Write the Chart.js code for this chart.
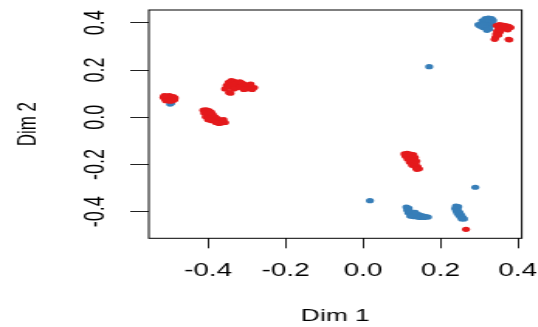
<!DOCTYPE html>
<html><head><meta charset="utf-8">
<script src="https://cdn.jsdelivr.net/npm/chart.js@4/dist/chart.umd.min.js"></script>
<style>
html,body{margin:0;padding:0;background:#fff;overflow:hidden;width:538px;height:327px;}
#wrap{width:347px;height:327px;transform:scaleX(1.55);transform-origin:0 0;}
canvas{display:block;}
</style></head><body>
<div id="wrap"><canvas id="c" width="347" height="327"></canvas></div>
<script>
// Axis ticks
const xTicks = [-0.4, -0.2, 0.0, 0.2, 0.4];
const yTicks = [-0.4, -0.2, 0.0, 0.2, 0.4];
const xTitle = 'Dim 1';
const yTitle = 'Dim 2';

// Red group (x, y)
const redX = [
  -0.515,-0.512,-0.508,-0.505,-0.502,-0.500,-0.497,-0.494,-0.490,-0.487,-0.509,-0.498,-0.492,-0.486,-0.513,
  -0.412,-0.405,-0.398,-0.392,-0.410,-0.402,-0.395,-0.388,-0.406,-0.398,-0.390,-0.382,-0.376,-0.384,-0.392,-0.375,-0.368,-0.362,-0.356,-0.366,-0.372,-0.360,-0.400,-0.380,
  -0.356,-0.352,-0.347,-0.340,-0.333,-0.345,-0.338,-0.330,-0.324,-0.318,-0.312,-0.326,-0.318,-0.310,-0.304,-0.298,-0.292,-0.286,-0.281,-0.300,-0.308,-0.334,-0.290,-0.346,-0.342,
  0.107,0.114,0.122,0.130,0.110,0.118,0.127,0.134,0.115,0.123,0.131,0.138,0.121,0.129,0.136,0.127,0.134,0.141,0.137,0.145,0.139,
  0.266,
  0.345,0.352,0.360,0.368,0.376,0.381,0.350,0.358,0.366,0.374,0.346,0.354,0.344,0.350,0.342,0.340,0.378,0.376
];
const redY = [
  0.085,0.078,0.090,0.082,0.072,0.092,0.085,0.078,0.088,0.074,0.070,0.068,0.070,0.082,0.092,
  0.030,0.031,0.028,0.022,0.018,0.012,0.008,0.012,0.002,-0.002,-0.004,0.002,-0.006,-0.012,-0.014,-0.018,-0.012,-0.018,-0.022,-0.024,-0.026,-0.010,-0.010,-0.022,
  0.120,0.135,0.148,0.155,0.152,0.128,0.138,0.140,0.146,0.150,0.145,0.125,0.128,0.132,0.138,0.132,0.125,0.118,0.126,0.120,0.118,0.120,0.140,0.105,0.102,
  -0.155,-0.153,-0.156,-0.158,-0.165,-0.166,-0.168,-0.170,-0.176,-0.180,-0.182,-0.185,-0.190,-0.194,-0.197,-0.203,-0.206,-0.209,-0.214,-0.218,-0.220,
  -0.474,
  0.388,0.392,0.390,0.388,0.385,0.380,0.378,0.376,0.374,0.370,0.365,0.362,0.352,0.348,0.338,0.330,0.328,0.330
];

// Blue group (x, y)
const blueX = [
  -0.498,-0.495,
  0.316,0.324,0.332,0.336,0.308,0.316,0.324,0.332,0.298,0.305,0.312,0.320,0.328,0.334,0.310,0.318,0.326,0.320,0.302,
  0.171,0.018,0.290,
  0.112,0.118,0.114,0.120,0.117,0.124,0.126,0.132,0.138,0.144,0.150,0.156,0.162,0.168,0.130,0.140,0.148,0.158,0.122,0.135,
  0.240,0.246,0.238,0.244,0.241,0.247,0.244,0.250,0.248,0.254,0.252,0.258,0.261,0.255
];
const blueY = [
  0.056,0.060,
  0.418,0.420,0.418,0.410,0.408,0.406,0.404,0.400,0.392,0.394,0.392,0.390,0.388,0.392,0.380,0.378,0.374,0.368,0.386,
  0.214,-0.353,-0.296,
  -0.380,-0.384,-0.392,-0.396,-0.404,-0.404,-0.412,-0.410,-0.414,-0.412,-0.416,-0.418,-0.420,-0.422,-0.420,-0.422,-0.424,-0.424,-0.418,-0.402,
  -0.376,-0.378,-0.386,-0.388,-0.396,-0.398,-0.406,-0.404,-0.414,-0.414,-0.422,-0.424,-0.430,-0.430
];

const toPts = (xs, ys) => xs.map((x, i) => ({x: x, y: ys[i]}));
const FONT = "'Liberation Sans', Arial, Helvetica, sans-serif";
const fmt = v => (Math.abs(v) < 1e-9 ? 0 : v).toFixed(1);

const boxPlugin = {
  id: 'box',
  afterDraw(chart) {
    const {ctx, chartArea: a} = chart;
    ctx.save();
    ctx.strokeStyle = '#000';
    ctx.lineWidth = 1;
    ctx.strokeRect(a.left, a.top, a.right - a.left, a.bottom - a.top);
    ctx.restore();
  }
};

new Chart(document.getElementById('c'), {
  type: 'scatter',
  data: {
    datasets: [
      {label: 'red', data: toPts(redX, redY), backgroundColor: '#E41A1C', borderWidth: 0, pointRadius: 2.6},
      {label: 'blue', data: toPts(blueX, blueY), backgroundColor: '#377EB8', borderWidth: 0, pointRadius: 2.6}
    ]
  },
  options: {
    responsive: false,
    animation: false,
    devicePixelRatio: 1,
    events: [],
    layout: {padding: {top: 10, right: 10.4, left: 0, bottom: 0}},
    plugins: {legend: {display: false}, tooltip: {enabled: false}},
    scales: {
      x: {
        type: 'linear', min: -0.553, max: 0.410,
        afterBuildTicks: s => { s.ticks = xTicks.map(v => ({value: v})); },
        afterFit: s => { s.height = 88.7; s.paddingLeft = 0; s.paddingRight = 0; },
        border: {display: false},
        grid: {display: true, drawOnChartArea: false, drawTicks: true, tickLength: 10, tickColor: '#222', tickWidth: 1},
        ticks: {autoSkip: false, maxRotation: 0, minRotation: 0, padding: 12, color: '#000',
                font: {family: FONT, size: 18}, callback: v => fmt(v)},
        title: {display: true, text: xTitle, color: '#000', font: {family: FONT, size: 17},
                padding: {top: 0, bottom: 0}}
      },
      y: {
        type: 'linear', min: -0.512, max: 0.454,
        afterBuildTicks: s => { s.ticks = yTicks.map(v => ({value: v})); },
        afterFit: s => { s.width = 96; s.paddingTop = 0; s.paddingBottom = 0; },
        border: {display: false},
        grid: {display: true, drawOnChartArea: false, drawTicks: true, tickLength: 12, tickColor: '#222', tickWidth: 1},
        ticks: {autoSkip: false, minRotation: 90, maxRotation: 90, crossAlign: 'center', padding: 6.1, color: '#000',
                font: {family: FONT, size: 18}, callback: v => fmt(v)},
        title: {display: true, text: yTitle, color: '#000', font: {family: FONT, size: 17},
                padding: {top: 7.9, bottom: 0}}
      }
    }
  },
  plugins: [boxPlugin]
});
</script>
</body></html>
